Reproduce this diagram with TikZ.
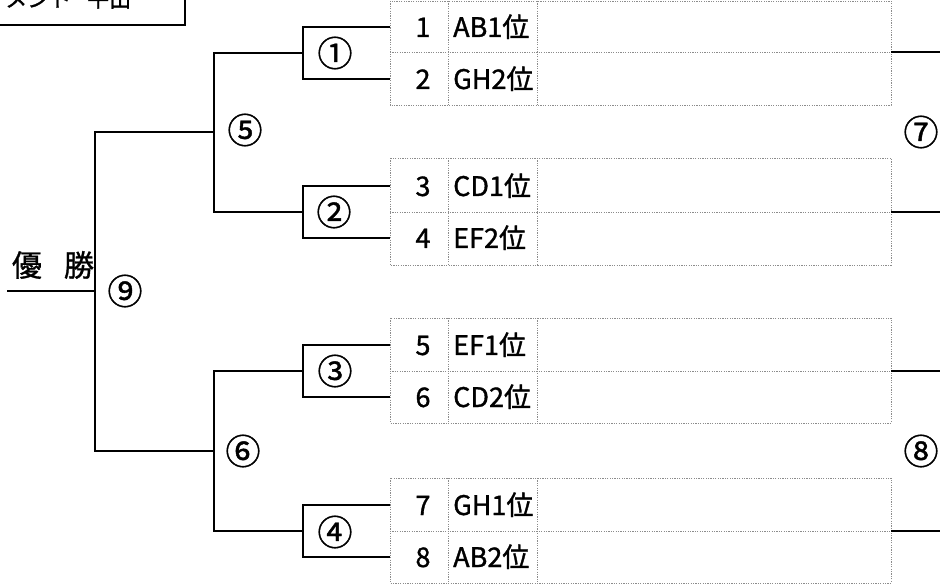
\documentclass[tikz,border=0pt]{standalone}
\usepackage{fontspec}
\setmainfont{Noto Sans CJK JP}
\newfontfamily\heavyjp{Noto Sans CJK JP}[FakeBold=1.2]
\begin{document}
\begin{tikzpicture}[x=1pt,y=-1pt,
  br/.style={line width=2pt, black},
  gridline/.style={black!45, line width=0.6pt, dash pattern=on 1.2pt off 1.2pt},
  numtxt/.style={font=\heavyjp\fontsize{27}{27}\selectfont, inner sep=0pt, anchor=base},
  labtxt/.style={font=\heavyjp\fontsize{27}{27}\selectfont, inner sep=0pt, anchor=base west},
  circtxt/.style={font=\heavyjp\fontsize{35}{35}\selectfont, inner sep=0pt}]
\useasboundingbox (0,0) rectangle (940,585);
% title box (cut by the page edge)
\coordinate (tbl) at (-10,25);
\coordinate (tbr) at (185,-10);
\draw[br] (tbl) -| (tbr);
\node[font=\heavyjp\fontsize{22}{22}\selectfont, inner sep=0pt, anchor=base west] (title) at (5,7) {メント\kern16pt 平出};
% table boxes
\foreach \k/\T/\M/\B in {1/1/52/105, 2/158/212/265, 3/318/371/423, 4/478/531/583} {
  \draw[gridline] (390,\T) rectangle (891,\B);
  \draw[gridline] (390,\M) -- (891,\M);
  \draw[gridline] (448,\T) -- (448,\B);
  \draw[gridline] (537,\T) -- (537,\B);
}
% entrants
\foreach \i/\y/\t in {1/27/AB1位, 2/79/GH2位, 3/186/CD1位, 4/238/EF2位, 5/345/EF1位, 6/397/CD2位, 7/505/GH1位, 8/557/AB2位} {
  \coordinate (e\i) at (390,\y);
  \node[numtxt] (n\i) at (423,\y+10) {\i};
  \node[labtxt] (t\i) at (453,\y+10) {\t};
}
% match junctions
\coordinate (m1) at (303,53);
\coordinate (m2) at (303,212);
\coordinate (m3) at (303,371);
\coordinate (m4) at (303,531);
\coordinate (m5) at (214,132);
\coordinate (m6) at (214,451);
\coordinate (m9) at (95,291);
\coordinate (w) at (7,291);
% brackets
\draw[br] (e1) -| (m1) |- (e2);
\draw[br] (e3) -| (m2) |- (e4);
\draw[br] (e5) -| (m3) |- (e6);
\draw[br] (e7) -| (m4) |- (e8);
\draw[br] (m1) -| (m5) |- (m2);
\draw[br] (m3) -| (m6) |- (m4);
\draw[br] (m5) -| (m9) |- (m6);
\draw[br] (m9) -- (w);
% right side stubs
\foreach \j/\y in {1/52, 2/212, 3/371, 4/531} {
  \coordinate (ra\j) at (891,\y);
  \coordinate (rb\j) at (940,\y);
  \draw[br] (ra\j) -- (rb\j);
}
% match labels
\node[circtxt] (c1) at (335,53) {①};
\node[circtxt] (c2) at (334,212) {②};
\node[circtxt] (c3) at (335,371) {③};
\node[circtxt] (c4) at (335,532) {④};
\node[circtxt] (c5) at (245,130) {⑤};
\node[circtxt] (c6) at (243,451) {⑥};
\node[circtxt] (c7) at (921,132) {⑦};
\node[circtxt] (c8) at (921,451) {⑧};
\node[circtxt] (c9) at (125,291) {⑨};
% winner
\node[font=\heavyjp\fontsize{30}{30}\selectfont, inner sep=0pt] (win) at (53,265) {優\kern22pt 勝};
\end{tikzpicture}
\end{document}
